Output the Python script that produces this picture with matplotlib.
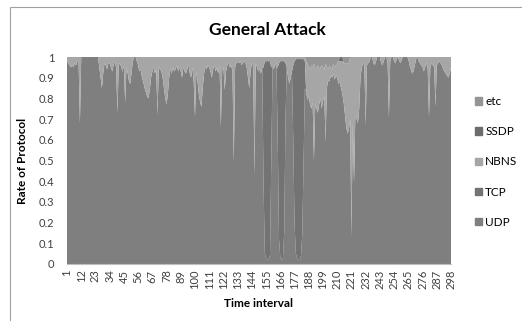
import numpy as np
import matplotlib
matplotlib.use('Agg')
import matplotlib.pyplot as plt
from matplotlib.patches import Rectangle, Patch

plt.rcParams['font.family'] = ['Lato', 'DejaVu Sans']

# share of each protocol per time interval, in percent
udp = [
    98, 97, 96, 95, 96, 95, 97, 96, 98, 97, 68,
    100, 100, 100, 100, 100, 100, 100, 100, 100, 100, 100,
    100, 100, 100, 95, 90, 85, 92, 97, 96, 94, 97,
    97, 95, 93, 96, 98, 95, 73, 96, 97, 95, 93,
    96, 78, 95, 92, 88, 87, 93, 98, 100, 100, 98,
    96, 93, 94, 90, 88, 85, 83, 81, 80, 84, 90,
    93, 95, 92, 94, 72, 95, 94, 93, 90, 85, 80,
    77, 82, 90, 94, 92, 95, 93, 94, 96, 93, 95,
    93, 90, 95, 93, 92, 94, 96, 92, 90, 95, 88,
    71, 93, 88, 82, 78, 76, 85, 92, 95, 94, 96,
    95, 93, 90, 94, 96, 93, 95, 92, 96, 66, 94,
    95, 84, 93, 96, 97, 95, 96, 93, 49, 95, 97,
    98, 97, 98, 96, 97, 98, 97, 95, 90, 85, 93,
    97, 96, 43, 97, 95, 93, 94, 92, 95, 40, 5,
    3, 2, 2, 4, 50, 96, 94, 97, 95, 60, 12,
    3, 2, 3, 15, 70, 95, 90, 87, 90, 93, 60,
    20, 5, 3, 2, 2, 4, 15, 50, 85, 83, 79,
    81, 77, 75, 78, 50, 77, 75, 73, 77, 80, 75,
    79, 81, 59, 85, 89, 88, 91, 90, 92, 89, 91,
    90, 87, 88, 85, 82, 78, 72, 66, 63, 65, 70,
    13, 68, 39, 72, 70, 68, 75, 90, 95, 97, 96,
    67, 96, 97, 98, 100, 100, 97, 96, 98, 100, 100,
    100, 97, 96, 98, 100, 100, 97, 71, 98, 100, 100,
    98, 97, 99, 100, 98, 97, 99, 100, 100, 100, 100,
    99, 96, 94, 92, 93, 96, 99, 100, 98, 97, 96,
    95, 93, 95, 97, 94, 71, 95, 97, 96, 95, 76,
    96, 97, 98, 97, 96, 94, 93, 92, 91, 90, 92,
    95,
]

nbns = [
    2, 3, 4, 5, 4, 5, 3, 4, 2, 3, 32,
    0, 0, 0, 0, 0, 0, 0, 0, 0, 0, 0,
    0, 0, 0, 5, 10, 15, 8, 3, 4, 6, 3,
    3, 5, 7, 4, 2, 5, 27, 4, 3, 5, 7,
    4, 22, 5, 8, 12, 13, 7, 2, 0, 0, 2,
    4, 7, 6, 10, 12, 15, 17, 19, 20, 16, 10,
    7, 5, 8, 6, 28, 5, 6, 7, 10, 15, 20,
    23, 18, 10, 6, 8, 5, 7, 6, 4, 7, 5,
    7, 10, 5, 7, 8, 6, 4, 8, 10, 5, 12,
    29, 7, 12, 18, 22, 24, 15, 8, 5, 6, 4,
    5, 7, 10, 6, 4, 7, 5, 8, 4, 34, 6,
    5, 16, 7, 4, 3, 5, 4, 7, 51, 5, 3,
    2, 3, 2, 4, 3, 2, 3, 5, 10, 15, 7,
    3, 4, 57, 3, 5, 7, 6, 8, 5, 5, 2,
    2, 2, 2, 2, 5, 4, 6, 3, 5, 5, 3,
    2, 2, 2, 2, 3, 5, 10, 13, 10, 7, 4,
    2, 1, 1, 1, 1, 1, 1, 1, 2, 15, 18,
    14, 17, 21, 17, 47, 17, 20, 23, 17, 15, 21,
    16, 13, 38, 10, 5, 8, 4, 4, 5, 6, 5,
    7, 11, 10, 13, 16, 19, 25, 31, 34, 32, 30,
    87, 32, 61, 28, 30, 32, 25, 10, 5, 3, 4,
    33, 4, 3, 2, 0, 0, 3, 4, 2, 0, 0,
    0, 3, 4, 2, 0, 0, 3, 29, 2, 0, 0,
    2, 3, 1, 0, 2, 3, 1, 0, 0, 0, 0,
    1, 4, 6, 8, 7, 4, 1, 0, 2, 3, 4,
    5, 7, 5, 3, 6, 29, 5, 3, 4, 5, 24,
    4, 3, 2, 3, 4, 6, 7, 8, 9, 10, 8,
    5,
]

# sparse series: {interval: percent}
tcp_pts = {153: 55, 154: 93, 155: 95, 156: 96, 157: 96, 158: 94, 159: 45,
           164: 35, 165: 85, 166: 95, 167: 96, 168: 95, 169: 83, 170: 27,
           176: 36, 177: 78, 178: 94, 179: 96, 180: 97, 181: 97, 182: 95,
           183: 84, 184: 49, 185: 13}
ssdp_pts = {212: 2, 213: 2, 214: 2}
etc_pts = {186: 2, 187: 3, 188: 5, 189: 6, 190: 4, 191: 5, 192: 3, 193: 6,
           194: 5, 195: 4, 196: 6, 197: 5, 198: 4, 199: 5, 200: 6, 201: 3,
           202: 5, 203: 6, 204: 4, 205: 5, 206: 6, 207: 3, 208: 5, 209: 4,
           210: 3, 211: 2, 215: 3, 216: 3, 217: 3, 218: 3, 219: 3}

labels = ['UDP', 'TCP', 'NBNS', 'SSDP', 'etc']
colors = ['#7f7f7f', '#737373', '#a6a6a6', '#6c6c6c', '#959595']

n = len(udp)
x = np.arange(1, n + 1)


def expand(pts):
    arr = np.zeros(n)
    for k, v in pts.items():
        arr[k - 1] = v
    return arr


series = [np.array(udp), expand(tcp_pts), np.array(nbns),
          expand(ssdp_pts), expand(etc_pts)]
series = [s / 100.0 for s in series]

fig = plt.figure(figsize=(5.22, 3.21), dpi=100)
ax = fig.add_axes([67 / 522, 57 / 321, 384 / 522, 207 / 321])

ax.stackplot(x, *series, colors=colors, linewidth=0, zorder=2)
ax.axhline(1, color='#d9d9d9', lw=0.8, zorder=1)

ax.set_xlim(1, n)
ax.set_ylim(0, 1)
ax.set_yticks(np.arange(0, 1.01, 0.1))
ax.set_yticklabels(['0'] + ['%.1f' % v for v in np.arange(0.1, 0.95, 0.1)] + ['1'])
xt = np.arange(1, n + 1, 11)
ax.set_xticks(xt)
ax.set_xticklabels([str(v) for v in xt], rotation=90)
ax.tick_params(axis='both', length=0, labelsize=8, colors='#404040')
ax.tick_params(axis='y', pad=9)
ax.tick_params(axis='x', pad=4)
for s in ['top', 'right', 'left']:
    ax.spines[s].set_visible(False)
ax.spines['bottom'].set_color('#bfbfbf')

ax.set_xlabel('Time interval', fontsize=8.5, fontweight='bold', labelpad=6)
ax.set_ylabel('Rate of Protocol', fontsize=8.5, fontweight='bold', labelpad=8)
fig.text(267 / 522, 1 - 30 / 321, 'General Attack', fontsize=12.5,
         fontweight='bold', ha='center', va='center')

handles = [Patch(color=c) for c in colors][::-1]
fig.legend(handles, labels[::-1], loc='center left',
           bbox_to_anchor=(464 / 522, 1 - 162 / 321), frameon=False,
           fontsize=8.5, handlelength=0.6, handleheight=0.6,
           handletextpad=0.3, labelspacing=1.62)

# chart-area border, cropped on the right and bottom
fig.add_artist(Rectangle((10 / 522, -0.1), 1.0, 1.1 - 7 / 321,
                         transform=fig.transFigure, fill=False,
                         edgecolor='#a0a0a0', lw=0.8))

fig.savefig('out.png', dpi=100)
